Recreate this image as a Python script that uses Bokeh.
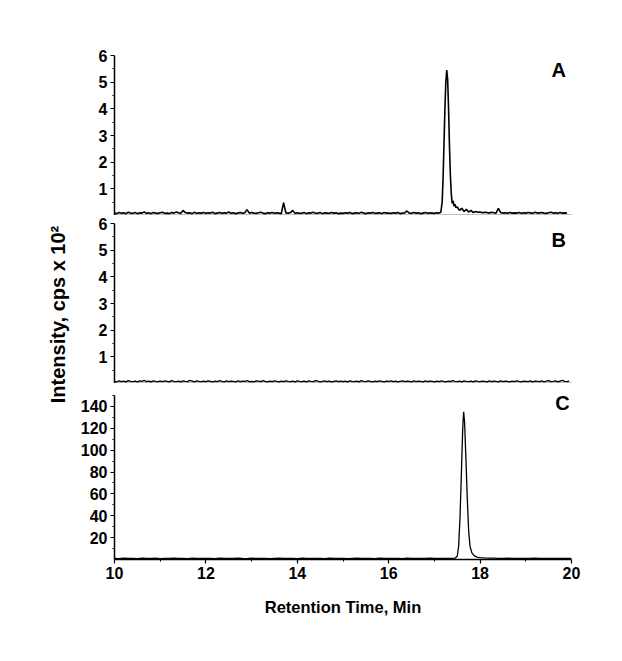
import math
from bokeh.plotting import figure
from bokeh.layouts import column, row
from bokeh.models import Range1d, FixedTicker, Label
from bokeh.embed import file_html
from bokeh.resources import INLINE

# ---------------- data ----------------
def grid(start, step, n):
    return [round(start + step * i, 3) for i in range(n)]

# Panel A (intensity, cps x 10^2)
a_base_t = grid(10.0, 0.05, 143)          # 10.00 .. 17.10
a_base_v = [
    0.09,0.07,0.11,0.08,0.10,0.07,0.12,0.09,0.08,0.11,0.07,0.10,0.09,0.13,0.08,0.10,0.07,0.11,0.09,0.08,
    0.10,0.12,0.08,0.09,0.07,0.11,0.09,0.13,0.10,0.08,0.19,0.11,0.09,0.10,0.07,0.12,0.08,0.10,0.09,0.11,
    0.08,0.10,0.09,0.12,0.07,0.09,0.11,0.08,0.10,0.09,0.13,0.08,0.10,0.07,0.09,0.11,0.08,0.10,0.22,0.09,
    0.11,0.09,0.08,0.10,0.12,0.09,0.07,0.10,0.09,0.11,0.08,0.10,0.09,0.07,0.48,0.10,0.09,0.11,0.19,0.08,
    0.10,0.08,0.09,0.11,0.07,0.10,0.09,0.12,0.08,0.09,0.11,0.07,0.10,0.09,0.08,0.11,0.09,0.10,0.07,0.09,
    0.08,0.10,0.09,0.11,0.07,0.09,0.10,0.08,0.12,0.09,0.07,0.10,0.09,0.11,0.08,0.09,0.10,0.07,0.11,0.09,
    0.09,0.08,0.10,0.09,0.11,0.07,0.09,0.10,0.17,0.09,0.08,0.11,0.09,0.10,0.07,0.09,0.11,0.08,0.10,0.09,
    0.08,0.10,0.09,
]
a_peak_t = [17.14, 17.17, 17.19, 17.21, 17.23, 17.25, 17.27, 17.29, 17.31, 17.33, 17.35, 17.37, 17.39, 17.41, 17.43, 17.45, 17.47]
a_peak_v = [0.12, 0.5, 1.4, 2.7, 4.0, 5.0, 5.45, 5.1, 4.0, 2.6, 1.5, 0.8, 0.45, 0.55, 0.35, 0.42, 0.3]
a_tail_t = grid(17.5, 0.05, 49)           # 17.50 .. 19.90
a_tail_v = [
    0.32,0.19,0.27,0.15,0.23,0.13,0.19,0.11,0.15,0.12,
    0.13,0.10,0.12,0.11,0.09,0.12,0.10,0.09,0.27,0.11,0.09,0.10,0.08,0.11,0.09,0.10,0.09,0.11,0.08,0.10,
    0.09,0.11,0.10,0.08,0.12,0.09,0.10,0.11,0.09,0.08,0.10,0.12,0.09,0.10,0.08,0.11,0.09,0.10,0.09,
]

# Panel B
b_t = grid(10.0, 0.05, 200)               # 10.00 .. 19.95
b_v = [
    0.08,0.06,0.10,0.07,0.09,0.06,0.11,0.08,0.07,0.09,0.06,0.10,0.08,0.12,0.07,0.09,0.06,0.10,0.08,0.07,
    0.09,0.07,0.10,0.08,0.06,0.11,0.08,0.07,0.09,0.06,0.10,0.08,0.07,0.12,0.09,0.06,0.10,0.08,0.07,0.09,
    0.07,0.10,0.08,0.06,0.09,0.07,0.11,0.08,0.06,0.10,0.07,0.09,0.08,0.06,0.10,0.07,0.09,0.08,0.11,0.07,
    0.08,0.06,0.10,0.09,0.07,0.11,0.08,0.06,0.09,0.07,0.10,0.08,0.06,0.09,0.07,0.10,0.08,0.07,0.09,0.06,
    0.10,0.08,0.07,0.09,0.06,0.10,0.08,0.07,0.11,0.09,0.06,0.08,0.10,0.07,0.09,0.06,0.08,0.10,0.07,0.09,
    0.07,0.09,0.06,0.10,0.08,0.07,0.09,0.06,0.11,0.08,0.07,0.10,0.08,0.06,0.09,0.07,0.10,0.08,0.06,0.09,
    0.08,0.10,0.07,0.09,0.06,0.08,0.10,0.07,0.09,0.08,0.06,0.10,0.07,0.09,0.08,0.06,0.10,0.07,0.09,0.08,
    0.06,0.09,0.07,0.10,0.08,0.06,0.09,0.07,0.11,0.08,0.07,0.09,0.06,0.10,0.08,0.07,0.09,0.06,0.10,0.08,
    0.07,0.09,0.08,0.06,0.10,0.07,0.09,0.08,0.06,0.10,0.07,0.09,0.08,0.06,0.09,0.07,0.10,0.08,0.06,0.09,
    0.08,0.07,0.10,0.06,0.09,0.08,0.07,0.10,0.06,0.09,0.11,0.07,0.08,0.10,0.06,0.09,0.12,0.08,0.07,0.09,
]

# Panel C
c_base_t = grid(10.0, 0.1, 75)            # 10.0 .. 17.4
c_base_v = [
    1.0,0.8,1.2,0.9,1.1,0.8,1.3,1.0,0.9,1.2,
    0.8,1.1,1.0,1.3,0.9,1.0,0.8,1.2,1.0,0.9,
    1.1,1.0,0.8,1.2,0.9,1.1,1.0,1.3,0.9,0.8,
    1.2,1.0,0.9,1.1,0.8,1.0,1.2,0.9,1.1,1.0,
    0.8,1.2,1.0,0.9,1.1,1.0,0.8,1.3,1.0,0.9,
    1.1,0.8,1.0,1.2,0.9,1.0,1.1,0.8,1.2,1.0,
    0.9,1.1,1.0,0.8,1.2,1.0,0.9,1.1,1.0,1.3,
    0.9,1.0,1.1,0.9,1.0,
]
c_peak_t = [17.45, 17.50, 17.53, 17.56, 17.59, 17.62, 17.64, 17.66, 17.69, 17.72, 17.75, 17.78, 17.82, 17.87, 17.93]
c_peak_v = [1.2, 3.0, 12.0, 38.0, 78.0, 120.0, 135.0, 126.0, 92.0, 55.0, 26.0, 12.0, 6.0, 3.5, 2.2]
c_tail_t = grid(18.0, 0.1, 21)            # 18.0 .. 20.0
c_tail_v = [1.8,1.5,1.3,1.2,1.1,1.0,1.2,0.9,1.0,1.1,0.9,1.0,1.2,0.9,1.0,1.1,0.9,1.0,1.1,0.9,1.0]

ab_ticks = [1, 2, 3, 4, 5, 6]
ab_minor = [0.5, 1.5, 2.5, 3.5, 4.5, 5.5]
c_ticks = [20, 40, 60, 80, 100, 120, 140]
c_minor = [10, 30, 50, 70, 90, 110, 130, 150]
x_ticks = [10, 12, 14, 16, 18, 20]
x_minor = [11, 13, 15, 17, 19]

FONT = "Liberation Sans"

xr = Range1d(10, 20)


def make(frame_h, top, bottom, yr, ticks, minor, show_x):
    p = figure(frame_width=457, frame_height=frame_h, x_range=xr, y_range=Range1d(*yr),
               output_backend="svg", toolbar_location=None,
               min_border_left=44, min_border_right=40,
               min_border_top=top, min_border_bottom=bottom)
    p.grid.visible = False
    p.outline_line_color = None
    p.background_fill_color = "white"
    p.border_fill_color = "white"
    for ax in (p.xaxis[0], p.yaxis[0]):
        ax.axis_line_color = "black"
        ax.axis_line_width = 1.5
        ax.major_tick_line_color = "black"
        ax.major_tick_line_width = 1.2
        ax.minor_tick_line_color = "black"
        ax.minor_tick_line_width = 1
        ax.major_tick_in = 0
        ax.major_tick_out = 4
        ax.minor_tick_in = 0
        ax.minor_tick_out = 2
        ax.major_label_text_font = FONT
        ax.major_label_text_font_style = "bold"
        ax.major_label_text_font_size = "16px"
        ax.major_label_text_color = "black"
        ax.major_label_standoff = 3
    p.yaxis.ticker = FixedTicker(ticks=ticks, minor_ticks=minor)
    if show_x:
        p.xaxis.ticker = FixedTicker(ticks=x_ticks, minor_ticks=x_minor)
    else:
        p.xaxis.ticker = FixedTicker(ticks=[], minor_ticks=[])
        p.xaxis.major_label_standoff = 0
        p.xaxis.major_tick_out = 0
        p.xaxis.minor_tick_out = 0
    return p


def panel_label(p, x, y, t):
    p.add_layout(Label(x=x, y=y, text=t, text_font=FONT, text_font_style="bold",
                       text_font_size="20px", text_color="black",
                       text_align="center", text_baseline="middle"))


pA = make(160, 55, 0, (0, 6), ab_ticks, ab_minor, False)
pA.line(a_base_t + a_peak_t + a_tail_t, a_base_v + a_peak_v + a_tail_v,
        line_color="black", line_width=1.6)
panel_label(pA, 19.72, 5.47, "A")

pB = make(160, 8, 0, (0, 6), ab_ticks, ab_minor, False)
pB.line(b_t, b_v, line_color="black", line_width=1.4)
panel_label(pB, 19.72, 5.38, "B")

pC = make(164, 12, 58, (0, 150), c_ticks, c_minor, True)
pC.line(c_base_t + c_peak_t + c_tail_t, c_base_v + c_peak_v + c_tail_v,
        line_color="black", line_width=1.3)
panel_label(pC, 19.8, 143, "C")
pC.xaxis.axis_label = "Retention Time, Min"
pC.xaxis.axis_label_text_font = FONT
pC.xaxis.axis_label_text_font_style = "bold"
pC.xaxis.axis_label_text_font_size = "16.5px"
pC.xaxis.axis_label_text_color = "black"
pC.xaxis.axis_label_standoff = 16

# shared y-axis title in a narrow side canvas
LH = 632
lf = figure(width=70, height=LH, x_range=Range1d(0, 70), y_range=Range1d(0, LH),
            output_backend="svg", toolbar_location=None, min_border=0)
lf.axis.visible = False
lf.grid.visible = False
lf.outline_line_color = None
lf.add_layout(Label(x=57, y=LH - 314, text="Intensity, cps x 10²", angle=math.pi / 2,
                    text_font=FONT, text_font_style="bold", text_font_size="20px",
                    text_color="black", text_align="center", text_baseline="middle"))

layout = row(lf, column(pA, pB, pC, spacing=0), spacing=0)

open("out.html", "w").write(file_html(layout, INLINE))
